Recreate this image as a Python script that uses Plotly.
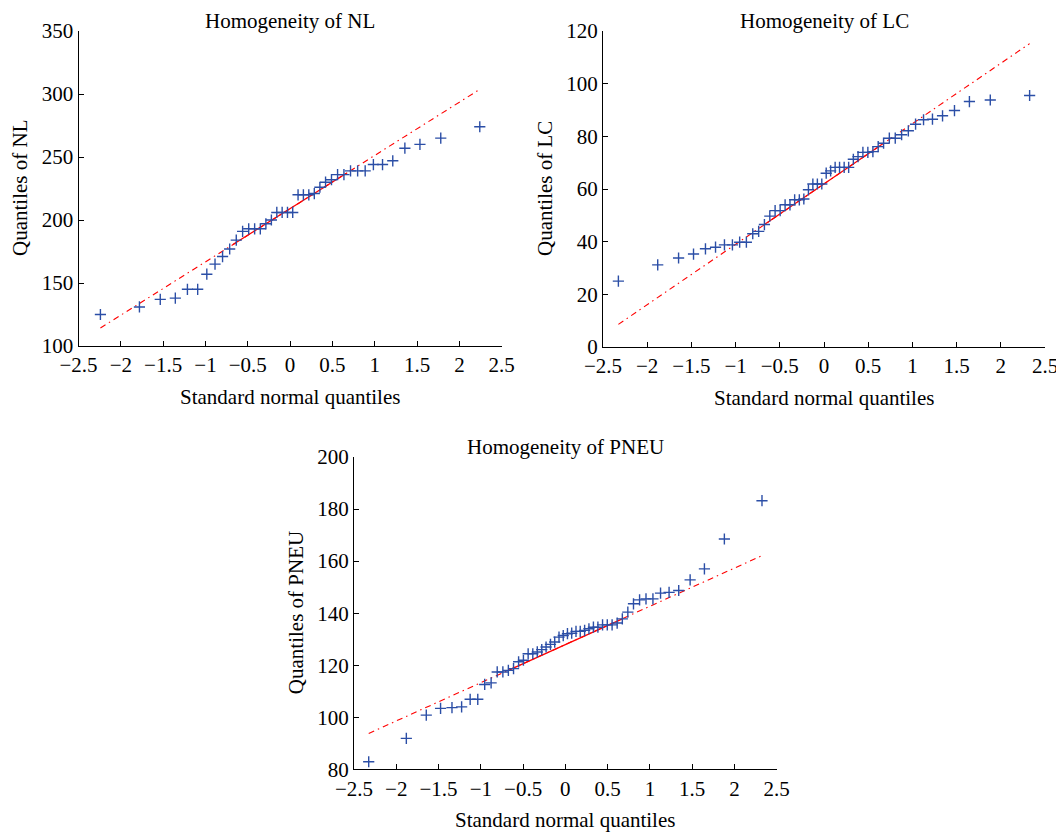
import plotly.graph_objects as go

# ---------------- data ----------------
# theoretical standard-normal quantiles (x positions of the "+" markers)
nl_q = [-2.241, -1.780, -1.534, -1.356, -1.213, -1.092, -0.984, -0.887, -0.798, -0.714,
        -0.636, -0.561, -0.489, -0.419, -0.352, -0.286, -0.221, -0.157, -0.094, -0.031,
        0.031, 0.094, 0.157, 0.221, 0.286, 0.352, 0.419, 0.489, 0.561, 0.636,
        0.714, 0.798, 0.887, 0.984, 1.092, 1.213, 1.356, 1.534, 1.780, 2.241]
nl_vals = [125, 131, 137, 138, 145, 145, 157, 165, 171, 177,
           184, 191, 193, 193, 193, 197, 200, 206, 206, 206,
           206, 220, 220, 220, 221, 226, 230, 232, 236, 236,
           239, 239, 239, 244, 244, 247, 257, 260, 265, 274]

q50 = [-2.326, -1.881, -1.645, -1.476, -1.341, -1.227, -1.126, -1.036, -0.954, -0.878,
       -0.806, -0.739, -0.674, -0.613, -0.553, -0.496, -0.440, -0.385, -0.332, -0.279,
       -0.228, -0.176, -0.126, -0.075, -0.025, 0.025, 0.075, 0.126, 0.176, 0.228,
       0.279, 0.332, 0.385, 0.440, 0.496, 0.553, 0.613, 0.674, 0.739, 0.806,
       0.878, 0.954, 1.036, 1.126, 1.227, 1.341, 1.476, 1.645, 1.881, 2.326]
lc_q = q50
lc_vals = [25.0, 31.2, 33.8, 35.3, 37.3, 37.9, 38.8, 38.8, 39.8, 39.8,
           43.0, 43.9, 46.5, 49.7, 51.8, 51.8, 54.0, 54.0, 55.9, 55.9,
           56.2, 59.7, 61.9, 61.9, 61.9, 66.0, 66.9, 68.2, 68.2, 68.2,
           68.2, 71.3, 72.3, 73.9, 73.9, 74.2, 76.1, 77.4, 79.3, 79.3,
           80.6, 82.1, 84.6, 86.3, 86.5, 87.8, 89.8, 93.2, 93.8, 95.5]
pneu_q = q50
pneu_vals = [82.9, 91.9, 100.8, 103.4, 103.7, 104.0, 106.9, 106.9, 112.6, 113.2,
             117.4, 117.4, 118.0, 118.7, 121.3, 121.9, 124.4, 124.4, 125.1, 126.0,
             127.0, 128.0, 128.9, 130.8, 131.4, 132.1, 132.3, 133.0, 133.0, 133.4,
             134.0, 134.6, 134.6, 135.5, 135.5, 135.5, 136.2, 137.8, 140.4, 143.6,
             145.1, 145.5, 145.5, 147.7, 148.0, 148.7, 152.8, 157.0, 168.5, 183.2]

# reference lines: dash-dot over the full range, solid between quartiles
nl_ext_x, nl_ext_y = [-2.241, 2.241], [114.3, 303.7]
nl_iqr_x, nl_iqr_y = [-0.675, 0.675], [180.5, 237.5]
lc_ext_x, lc_ext_y = [-2.326, 2.326], [8.6, 115.2]
lc_iqr_x, lc_iqr_y = [-0.674, 0.674], [46.5, 77.4]
pn_ext_x, pn_ext_y = [-2.326, 2.326], [93.8, 162.1]
pn_iqr_x, pn_iqr_y = [-0.674, 0.674], [118.0, 137.8]

titles = ["Homogeneity of NL", "Homogeneity of LC", "Homogeneity of PNEU"]
ylabels = ["Quantiles of NL", "Quantiles of LC", "Quantiles of PNEU"]
xlabel = "Standard normal quantiles"
y_ranges = [[100, 350], [0, 120], [80, 200]]
y_dticks = [50, 20, 20]

# ---------------- figure ----------------
OFF = 8                      # page body margin of the browser
W, H = 1064 - OFF, 833 - OFF
FONT = "Liberation Serif"
FS = 21
BLUE = "#2b4ea6"
RED = "#ff0000"

# panel pixel boxes in page coordinates: (left, right, top, bottom)
boxes = [(78.5, 501.7, 31, 346), (603, 1045, 31, 347), (354, 776.7, 457, 769.3)]

fig = go.Figure()
panels = [
    (nl_q, nl_vals, nl_ext_x, nl_ext_y, nl_iqr_x, nl_iqr_y),
    (lc_q, lc_vals, lc_ext_x, lc_ext_y, lc_iqr_x, lc_iqr_y),
    (pneu_q, pneu_vals, pn_ext_x, pn_ext_y, pn_iqr_x, pn_iqr_y),
]
for i, (qx, vals, ex, ey, ix, iy) in enumerate(panels):
    xa = "x" if i == 0 else f"x{i+1}"
    ya = "y" if i == 0 else f"y{i+1}"
    fig.add_trace(go.Scatter(x=ex, y=ey, mode="lines", xaxis=xa, yaxis=ya,
                             line=dict(color=RED, width=1.1, dash="6px,4px,1.5px,4px"),
                             showlegend=False, hoverinfo="skip"))
    fig.add_trace(go.Scatter(x=ix, y=iy, mode="lines", xaxis=xa, yaxis=ya,
                             line=dict(color=RED, width=1.3),
                             showlegend=False, hoverinfo="skip"))
    fig.add_trace(go.Scatter(x=qx, y=vals, mode="markers", xaxis=xa, yaxis=ya,
                             marker=dict(symbol="cross-thin", size=8,
                                         line=dict(color=BLUE, width=1.4)),
                             showlegend=False))

layout = dict(width=W, height=H, margin=dict(l=0, r=0, t=0, b=0, autoexpand=False),
              paper_bgcolor="white", plot_bgcolor="white",
              font=dict(family=FONT, size=FS, color="black"))


def px(xp):
    return (xp - OFF) / W


def py(yp):
    return 1 - (yp - OFF) / H


annotations = []
for i, (l, r, t, b) in enumerate(boxes):
    sfx = "" if i == 0 else str(i + 1)
    common = dict(showgrid=False, zeroline=False, showline=True, linecolor="black",
                  linewidth=1.3, ticks="inside", ticklen=5, tickwidth=1.2,
                  tickcolor="black", mirror=False, automargin=False,
                  tickfont=dict(family=FONT, size=FS, color="black"))
    layout["xaxis" + sfx] = dict(domain=[px(l), px(r)], range=[-2.5, 2.5], dtick=0.5,
                                 tick0=-2.5, anchor="y" + sfx, **common)
    layout["yaxis" + sfx] = dict(domain=[py(b), py(t)], range=y_ranges[i],
                                 dtick=y_dticks[i], anchor="x" + sfx, **common)
    cx = px((l + r) / 2)
    annotations.append(dict(text=titles[i], x=cx, y=py(t - 23), xref="paper",
                            yref="paper", showarrow=False, xanchor="center",
                            yanchor="top", borderpad=0, font=dict(family=FONT, size=FS)))
    annotations.append(dict(text=xlabel, x=cx, y=py(b + 51), xref="paper",
                            yref="paper", showarrow=False, xanchor="center",
                            yanchor="middle", font=dict(family=FONT, size=FS)))
    annotations.append(dict(text=ylabels[i], x=px(l - 58), y=py((t + b) / 2),
                            xref="paper", yref="paper", showarrow=False,
                            xanchor="center", yanchor="middle", textangle=-90,
                            font=dict(family=FONT, size=FS)))
layout["annotations"] = annotations
fig.update_layout(**layout)
fig.write_html("out.html")
